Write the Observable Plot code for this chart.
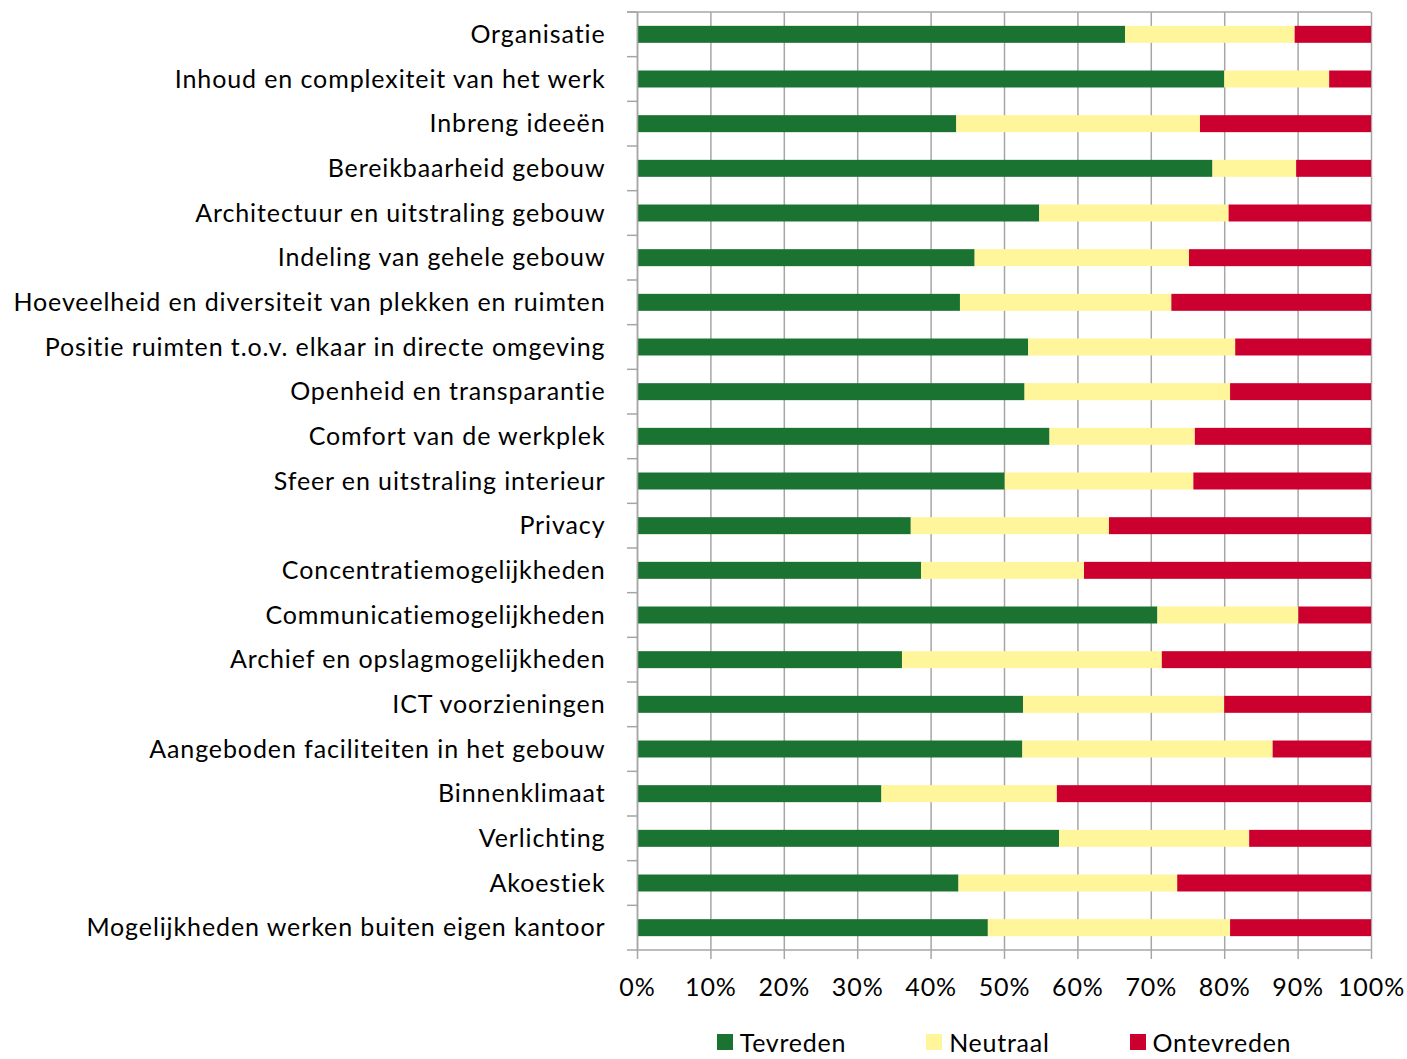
<!DOCTYPE html>
<html>
<head>
<meta charset="utf-8">
<script src="https://cdn.jsdelivr.net/npm/d3@7"></script>
<script src="https://cdn.jsdelivr.net/npm/@observablehq/plot@0.6"></script>
<style>
  html, body { margin: 0; padding: 0; background: #fff; }
  #chart svg { display: block; }
  .legend { display: flex; justify-content: center; gap: 80px; margin-left: 637px; width: 734px;
            margin-top: 8px; height: 28px; line-height: 28px; align-items: center;
            font-family: Lato, "Noto Sans", sans-serif; font-size: 25px; letter-spacing: 0.75px; color: #000; }
  .legend span.sw { display: inline-block; width: 16px; height: 16px; margin-right: 7px; }
  .legend .item { display: flex; align-items: center; }
  #chart svg text { letter-spacing: 0.9px; }
</style>
</head>
<body>
<div id="chart"></div>
<div class="legend" id="legend"></div>
<script>
const categories = [
  "Organisatie",
  "Inhoud en complexiteit van het werk",
  "Inbreng ideeën",
  "Bereikbaarheid gebouw",
  "Architectuur en uitstraling gebouw",
  "Indeling van gehele gebouw",
  "Hoeveelheid en diversiteit van plekken en ruimten",
  "Positie ruimten t.o.v. elkaar in directe omgeving",
  "Openheid en transparantie",
  "Comfort van de werkplek",
  "Sfeer en uitstraling interieur",
  "Privacy",
  "Concentratiemogelijkheden",
  "Communicatiemogelijkheden",
  "Archief en opslagmogelijkheden",
  "ICT voorzieningen",
  "Aangeboden faciliteiten in het gebouw",
  "Binnenklimaat",
  "Verlichting",
  "Akoestiek",
  "Mogelijkheden werken buiten eigen kantoor"
];
const tevreden   = [66.5, 80.0, 43.5, 78.4, 54.8, 46.0, 44.0, 53.3, 52.8, 56.2, 50.1, 37.3, 38.7, 70.9, 36.1, 52.6, 52.5, 33.3, 57.5, 43.8, 47.8];
const neutraal   = [23.1, 14.3, 33.2, 11.4, 25.8, 29.2, 28.8, 28.2, 28.0, 19.8, 25.7, 27.0, 22.2, 19.2, 35.4, 27.4, 34.1, 23.9, 25.9, 29.8, 33.0];
const ontevreden = [10.4,  5.7, 23.3, 10.2, 19.4, 24.8, 27.2, 18.5, 19.2, 24.0, 24.2, 35.7, 39.1,  9.9, 28.5, 20.0, 13.4, 42.8, 16.6, 26.4, 19.2];
const seriesNames = ["Tevreden", "Neutraal", "Ontevreden"];
const seriesColors = ["#1a7330", "#fff59b", "#cc002e"];
const xTicks = [0, 10, 20, 30, 40, 50, 60, 70, 80, 90, 100];

const seriesValues = [tevreden, neutraal, ontevreden];
const rows = [];
categories.forEach((c, i) => {
  seriesNames.forEach((s, j) => rows.push({category: c, series: s, value: seriesValues[j][i]}));
});

const font = 'Lato, "Noto Sans", sans-serif';
const gridColor = "#a6a6a6";

const plot = Plot.plot({
  width: 1407,
  height: 1020,
  marginTop: 12,
  marginLeft: 637,
  marginRight: 36,
  marginBottom: 70,
  style: {fontFamily: font, fontSize: "25px", color: "#000", background: "#fff"},
  x: {domain: [0, 100], ticks: xTicks, label: null},
  y: {domain: categories, paddingInner: 0.62, paddingOuter: 0.31, round: false, label: null},
  color: {domain: seriesNames, range: seriesColors},
  marks: [
    Plot.gridX(xTicks, {stroke: gridColor, strokeOpacity: 1, strokeWidth: 1.5}),
    Plot.barX(rows, Plot.stackX({x: "value", y: "category", fill: "series", order: seriesNames, inset: 0})),
    Plot.axisX({ticks: xTicks, tickFormat: d => d + "%", tickSize: 9, tickPadding: 19, stroke: gridColor, strokeWidth: 1.5, fontSize: 25, label: null}),
    Plot.axisY({tickSize: 0, tickPadding: 32, fontSize: 25, label: null}),
    Plot.ruleX([0], {stroke: gridColor, strokeWidth: 1.5})
  ]
});

// Axis frame: bottom line, top line and category-boundary ticks, placed via the plot's scales
const ys = plot.scale("y");
const xs = plot.scale("x");
const svg = d3.select(plot.tagName === "svg" ? plot : plot.querySelector("svg"));
const x0 = xs.apply(0), x1 = xs.apply(100);
const half = ys.step / 2;
const bounds = categories.map(c => ys.apply(c) + ys.bandwidth / 2 - half);
bounds.push(ys.apply(categories[categories.length - 1]) + ys.bandwidth / 2 + half);
const g = svg.append("g").attr("stroke", gridColor).attr("stroke-width", 1.5);
bounds.forEach(b => {
  g.append("line").attr("x1", x0 - 10).attr("x2", x0).attr("y1", b).attr("y2", b);
});
g.append("line").attr("x1", x0 - 10).attr("x2", x1).attr("y1", bounds[0]).attr("y2", bounds[0]);
g.append("line").attr("x1", x0).attr("x2", x1).attr("y1", bounds[bounds.length - 1]).attr("y2", bounds[bounds.length - 1]);

document.getElementById("chart").appendChild(plot);

const legend = document.getElementById("legend");
seriesNames.forEach((s, j) => {
  const item = document.createElement("div");
  item.className = "item";
  item.innerHTML = `<span class="sw" style="background:${seriesColors[j]}"></span>${s}`;
  legend.appendChild(item);
});
</script>
</body>
</html>
